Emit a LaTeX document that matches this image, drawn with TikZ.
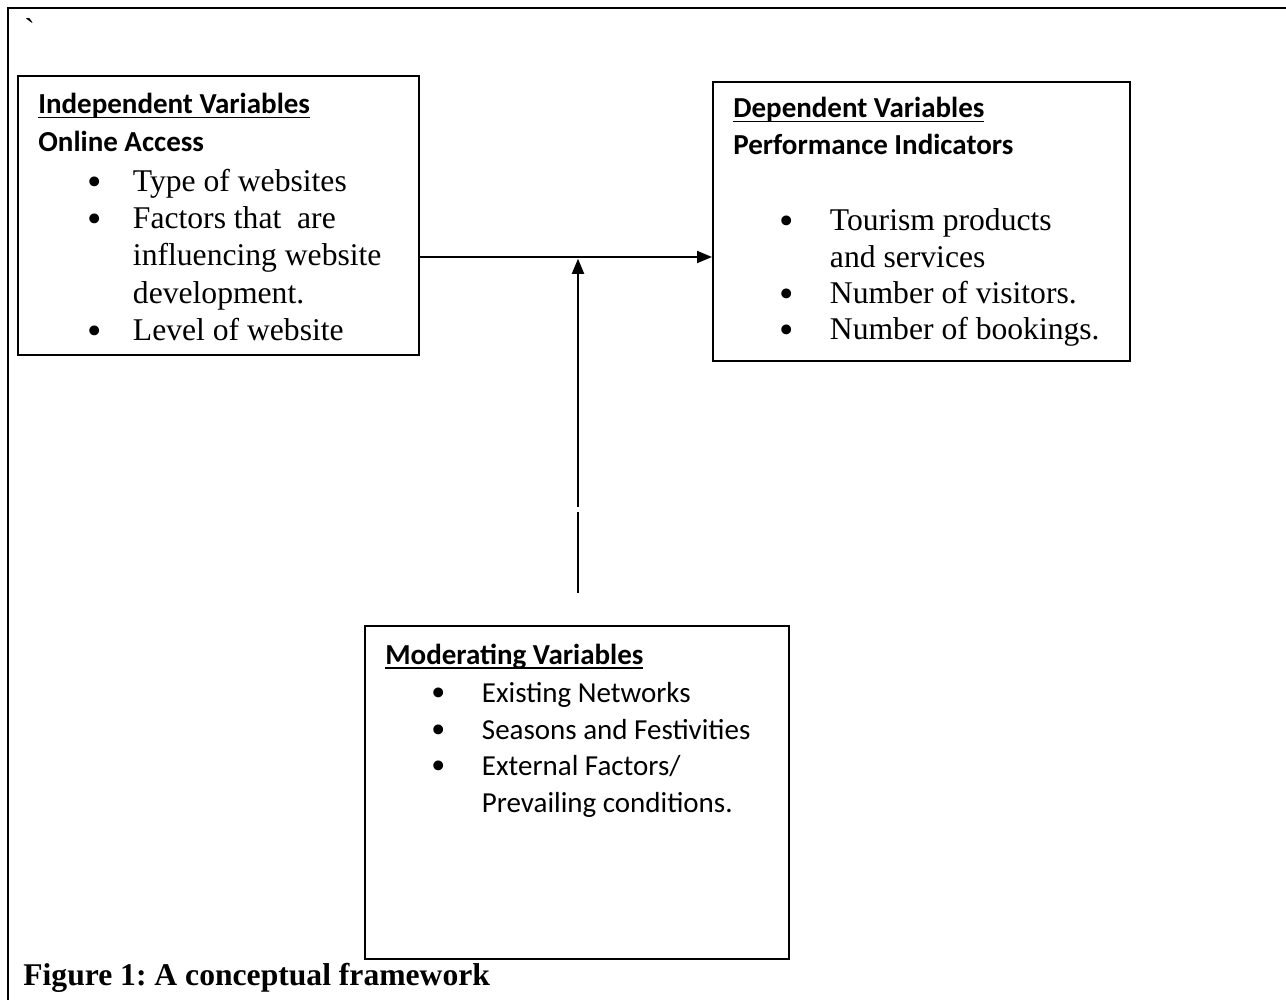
\documentclass[tikz,border=0pt]{standalone}
\usepackage{fontspec}
\setmainfont{Liberation Serif}
\newfontfamily\califont{Carlito}
\newfontfamily\rawserif[Ligatures=TeXOff]{Liberation Serif}
\usetikzlibrary{arrows.meta}

% one pixel of the layout
\newdimen\pxu \pxu=0.5669pt
\newsavebox\ulbox
\newcommand\ulin[1]{\sbox\ulbox{#1}\rlap{\rule[-4.5\pxu]{\wd\ulbox}{1.7\pxu}}\usebox\ulbox}
\newcommand\bul[2]{\hspace*{#1\pxu}\makebox[0pt]{\smash{\raisebox{-4\pxu}{\rmfamily\fontsize{23.4pt}{0pt}\selectfont\textbullet}}}\hspace*{#2\pxu}}
\newcommand\hd{\califont\bfseries\fontsize{16.5pt}{20pt}\selectfont}

\begin{document}
\frenchspacing
\begin{tikzpicture}[x=0.02cm, y=-0.02cm, >={Triangle[length=0.3cm,width=0.24cm]},
  box/.style={draw, line width=1.1pt, inner sep=0, anchor=north west},
  txt/.style={inner sep=0, anchor=base west, align=left},
  link/.style={line width=1.1pt}]
\useasboundingbox (0,0) rectangle (1286,1000);

% page frame
\draw[line width=1.7pt] (1300,8) -- (8,8) -- (8,1010);
\node[inner sep=0, anchor=base west, font=\rawserif\fontsize{18pt}{21pt}\selectfont] (tick) at (24,41) {\char"60};

% boxes
\node[box, minimum width=8.02cm, minimum height=5.58cm] (indep) at (17,75) {};
\node[box, minimum width=8.34cm, minimum height=5.58cm] (dep) at (712,81) {};
\node[box, minimum width=8.48cm, minimum height=6.66cm] (moder) at (364,625) {};

% texts, placed by the baseline of their last line
\node[txt, font=\fontsize{18pt}{21.26pt}\selectfont] (indtxt) at (38,340.5) {%
\ulin{\hd Independent Variables}\\
{\hd Online Access}\\[2.5\pxu]
\bul{57}{38}Type of websites\\
\bul{57}{38}Factors that\ \ are\\
\hspace*{95\pxu}influencing website\\
\hspace*{95\pxu}development.\\
\bul{57}{38}Level of website};

\node[txt, font=\fontsize{18pt}{20.69pt}\selectfont] (deptxt) at (733,340) {%
\ulin{\hd Dependent Variables}\\
{\hd Performance Indicators}\\[40.5\pxu]
\bul{54}{43}Tourism products\\
\hspace*{97\pxu}and services\\
\bul{54}{43}Number of visitors.\\
\bul{54}{43}Number of bookings.};

\node[txt, font=\califont\fontsize{16.5pt}{20.69pt}\selectfont] (modtxt) at (385,812) {%
\ulin{\bfseries Moderating Variables}\\[2.5\pxu]
\bul{54}{43}Existing Networks\\
\bul{54}{43}Seasons and Festivities\\
\bul{54}{43}External Factors/\\
\hspace*{97\pxu}Prevailing conditions.};

% connectors
\coordinate (joint) at (578,257);
\coordinate (modend) at (578,593);
\coordinate (breakA) at (578,512);
\coordinate (breakB) at (578,507);
\draw[link, ->] (indep.east |- joint) -- (dep.west |- joint);
\draw[link] (modend) -- (breakA);
\draw[link, ->, shorten >=1pt] (breakB) -- (joint);

\node[inner sep=0, anchor=base west, font=\bfseries\fontsize{18pt}{21pt}\selectfont] (caption) at (23,985) {Figure 1: A conceptual framework};
\end{tikzpicture}
\end{document}
